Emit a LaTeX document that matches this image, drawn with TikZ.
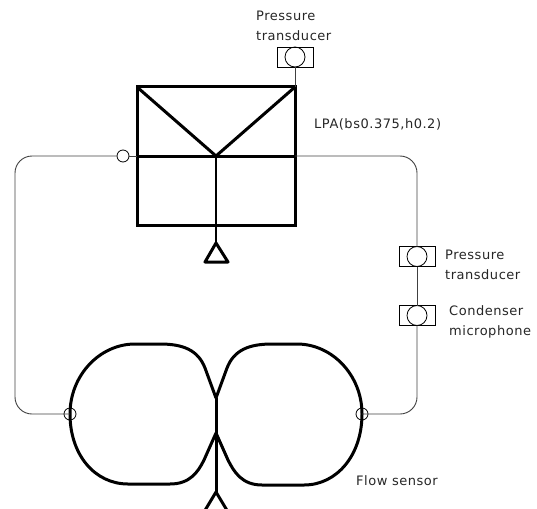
\documentclass[tikz,border=0pt]{standalone}
\usepackage{fontspec}
\setmainfont[LetterSpace=4]{DejaVu Sans}
\usetikzlibrary{positioning}

\begin{document}
\begin{tikzpicture}[
  x=1pt, y=-1pt,
  font=\fontsize{13}{20}\selectfont,
  node distance=5pt,
  pipe/.style={line width=0.9pt, black!75},
  heavy/.style={line width=3pt, line join=round},
  chamber/.style={draw, line width=3pt, outer sep=0pt, minimum width=158pt, minimum height=138pt, inner sep=0pt},
  gauge/.style={draw, line width=0.8pt, outer sep=0pt, minimum width=36pt, minimum height=20pt, inner sep=0pt},
  disc/.style={draw, circle, line width=0.8pt, minimum size=#1, inner sep=0pt},
  label/.style={align=left, inner sep=0pt, anchor=west, text=black!85}
]
  \clip (0,0) rectangle (537,508);

  % LPA chamber
  \node[chamber] (lpa) at (216,156) {};
  \coordinate (lpaL) at (137,156);
  \coordinate (lpaR) at (295,156);
  \coordinate (hub) at (216,156);
  \draw[heavy] (lpaL) -- (lpaR);
  \draw[heavy] (lpa.north west) -- (hub) -- (lpa.north east);
  \draw[line width=2.4pt] (hub) -- (216,243);
  \coordinate (apexA) at (216,243);
  \draw[heavy] (apexA) -- (228,262) -- (205,262) -- cycle;

  % flow sensor
  \coordinate (neckT) at (216,398);
  \coordinate (neckB) at (216,433);
  \coordinate (apexB) at (216,492);
  \draw[heavy] (neckT) -- (205,368) .. controls (198,350) and (183,344) .. (160,344)
    -- (135,344) .. controls (100,344) and (70,375) .. (70,414)
    .. controls (70,455) and (95,484) .. (128,484) -- (170,484)
    .. controls (190,484) and (198,472) .. (204,460) -- (neckB);
  \draw[heavy] (neckT) -- (227,368) .. controls (234,350) and (249,344) .. (272,344)
    -- (297,344) .. controls (332,344) and (362,375) .. (362,414)
    .. controls (362,455) and (337,485) .. (304,485) -- (262,485)
    .. controls (242,485) and (234,472) .. (228,460) -- (neckB);
  \draw[heavy] (neckT) -- (apexB);
  \draw[heavy] (apexB) -- (228,512) -- (204,512) -- cycle;

  % gauges
  \node[gauge] (ptTop) at (295,57) {};
  \node[disc=20pt] (ptTopC) at (ptTop) {};
  \node[gauge] (ptRight) at (417,256.5) {};
  \node[disc=20pt] (ptRightC) at (ptRight) {};
  \node[gauge, below=39pt of ptRight] (micRight) {};
  \node[disc=20pt] (micRightC) at (micRight) {};

  % ports
  \node[disc=12pt, fill=white] (valve) at (123,156) {};
  \node[disc=12pt] (portL) at (70,414) {};
  \node[disc=12pt] (portR) at (362,414) {};

  % piping
  \coordinate (cornerTL) at (15,156);
  \coordinate (cornerBL) at (15,414);
  \coordinate (cornerTR) at (417,156);
  \coordinate (cornerBR) at (417,414);
  \draw[pipe] (ptTop.south) -- (lpa.north east);
  \draw[pipe] (valve) -- (lpaL);
  \draw[pipe, rounded corners=17pt] (valve.west) -- (cornerTL) -- (cornerBL) -- (portL.center);
  \draw[pipe, rounded corners=17pt] (lpaR) -- (cornerTR) -- (ptRight.north);
  \draw[pipe] (ptRight.south) -- (micRight.north);
  \draw[pipe, rounded corners=17pt] (micRight.south) -- (cornerBR) -- (portR.center);

  % labels
  \node[label] (lblTop) at (256,26) {Pressure\\transducer};
  \node[label] (lblLpa) at (314,124) {LPA(bs0.375,h0.2)};
  \node[label] (lblRight) at (445,265) {Pressure\\transducer};
  \node[label] (lblMic) at (449,322) {Condenser\\microphone};
  \node[label] (lblFlow) at (356,481) {Flow sensor};
\end{tikzpicture}
\end{document}
